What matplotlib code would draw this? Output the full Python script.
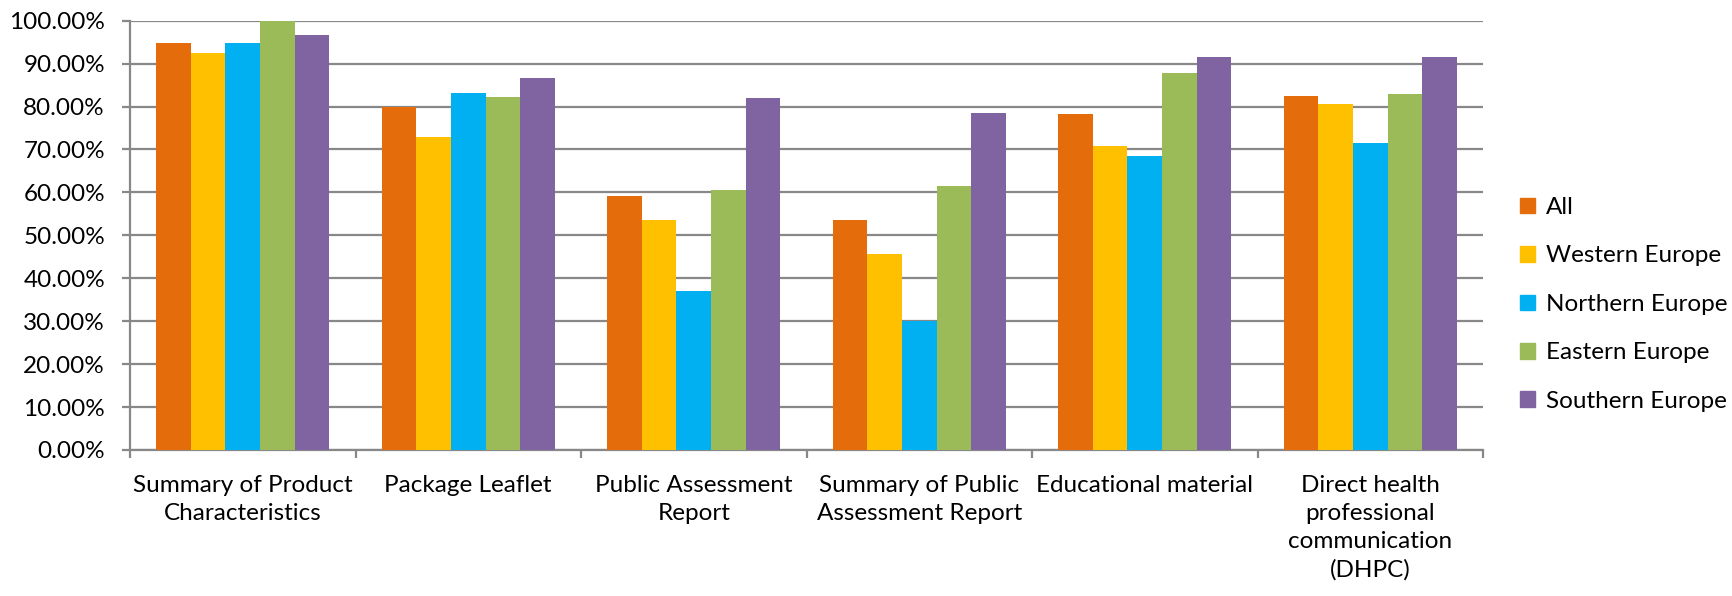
import numpy as np
from matplotlib import pyplot as plt
from matplotlib.patches import Patch
from matplotlib.ticker import PercentFormatter, FixedLocator, NullFormatter

categories = ['Summary of Product\nCharacteristics', 'Package Leaflet',
              'Public Assessment\nReport', 'Summary of Public\nAssessment Report',
              'Educational material',
              'Direct health\nprofessional\ncommunication\n(DHPC)']
series_names = ['All', 'Western Europe', 'Northern Europe', 'Eastern Europe', 'Southern Europe']
all_vals = [94.9, 80.0, 59.2, 53.6, 78.3, 82.4]
western = [92.5, 72.9, 53.6, 45.7, 70.9, 80.7]
northern = [94.7, 83.2, 37.0, 30.0, 68.5, 71.6]
eastern = [100.0, 82.2, 60.5, 61.4, 87.8, 82.9]
southern = [96.7, 86.6, 82.1, 78.6, 91.5, 91.5]
colors = ['#E46C0A', '#FFC000', '#00B0F0', '#9BBB59', '#8064A2']

plt.rcParams['font.family'] = ['Lato', 'DejaVu Sans']
fs_y = 17.5
fs_x = 17.5
fs_leg = 17.5
grey = '#888888'

fig = plt.figure(figsize=(17.32, 5.96), dpi=100)
ax = fig.add_axes([130/1732, 1-450/596, (1483-130)/1732, (450-20.7)/596])

x = np.arange(len(categories))
w = 1/6.5
data = [all_vals, western, northern, eastern, southern]
for i, vals in enumerate(data):
    ax.bar(x + (i-2)*w, vals, width=w, color=colors[i], label=series_names[i], zorder=3)

ax.set_xlim(-0.5, len(categories)-0.5)
ax.set_ylim(0, 100)
ax.set_yticks(np.arange(0, 101, 10))
ax.yaxis.set_major_formatter(PercentFormatter(decimals=2))
ax.grid(axis='y', color=grey, linewidth=1.6, zorder=0)

# category labels centred, ticks at boundaries
ax.xaxis.set_major_locator(FixedLocator(np.arange(-0.5, len(categories), 1)))
ax.xaxis.set_major_formatter(NullFormatter())
ax.xaxis.set_minor_locator(FixedLocator(x))
ax.set_xticklabels(categories, minor=True)
ax.tick_params(axis='x', which='minor', length=0, pad=18, labelsize=fs_x)
ax.tick_params(axis='x', which='major', length=6, width=1.6, color=grey)
ax.tick_params(axis='y', length=6, width=1.6, color=grey, pad=12, labelsize=fs_y)
for lab in ax.get_xticklabels(minor=True):
    lab.set_linespacing(1.41)

for s in ['top', 'right']:
    ax.spines[s].set_visible(False)
for s in ['left', 'bottom']:
    ax.spines[s].set_color(grey)
    ax.spines[s].set_linewidth(1.6)

handles = [Patch(color=c) for c in colors]
fig.legend(handles, series_names, loc='upper left', bbox_to_anchor=(1520/1732, 1-197/596),
           frameon=False, fontsize=fs_leg, handlelength=0.62, handleheight=0.62,
           handletextpad=0.45, labelspacing=1.13, borderaxespad=0, borderpad=0)

fig.savefig('out.png', dpi=100)
